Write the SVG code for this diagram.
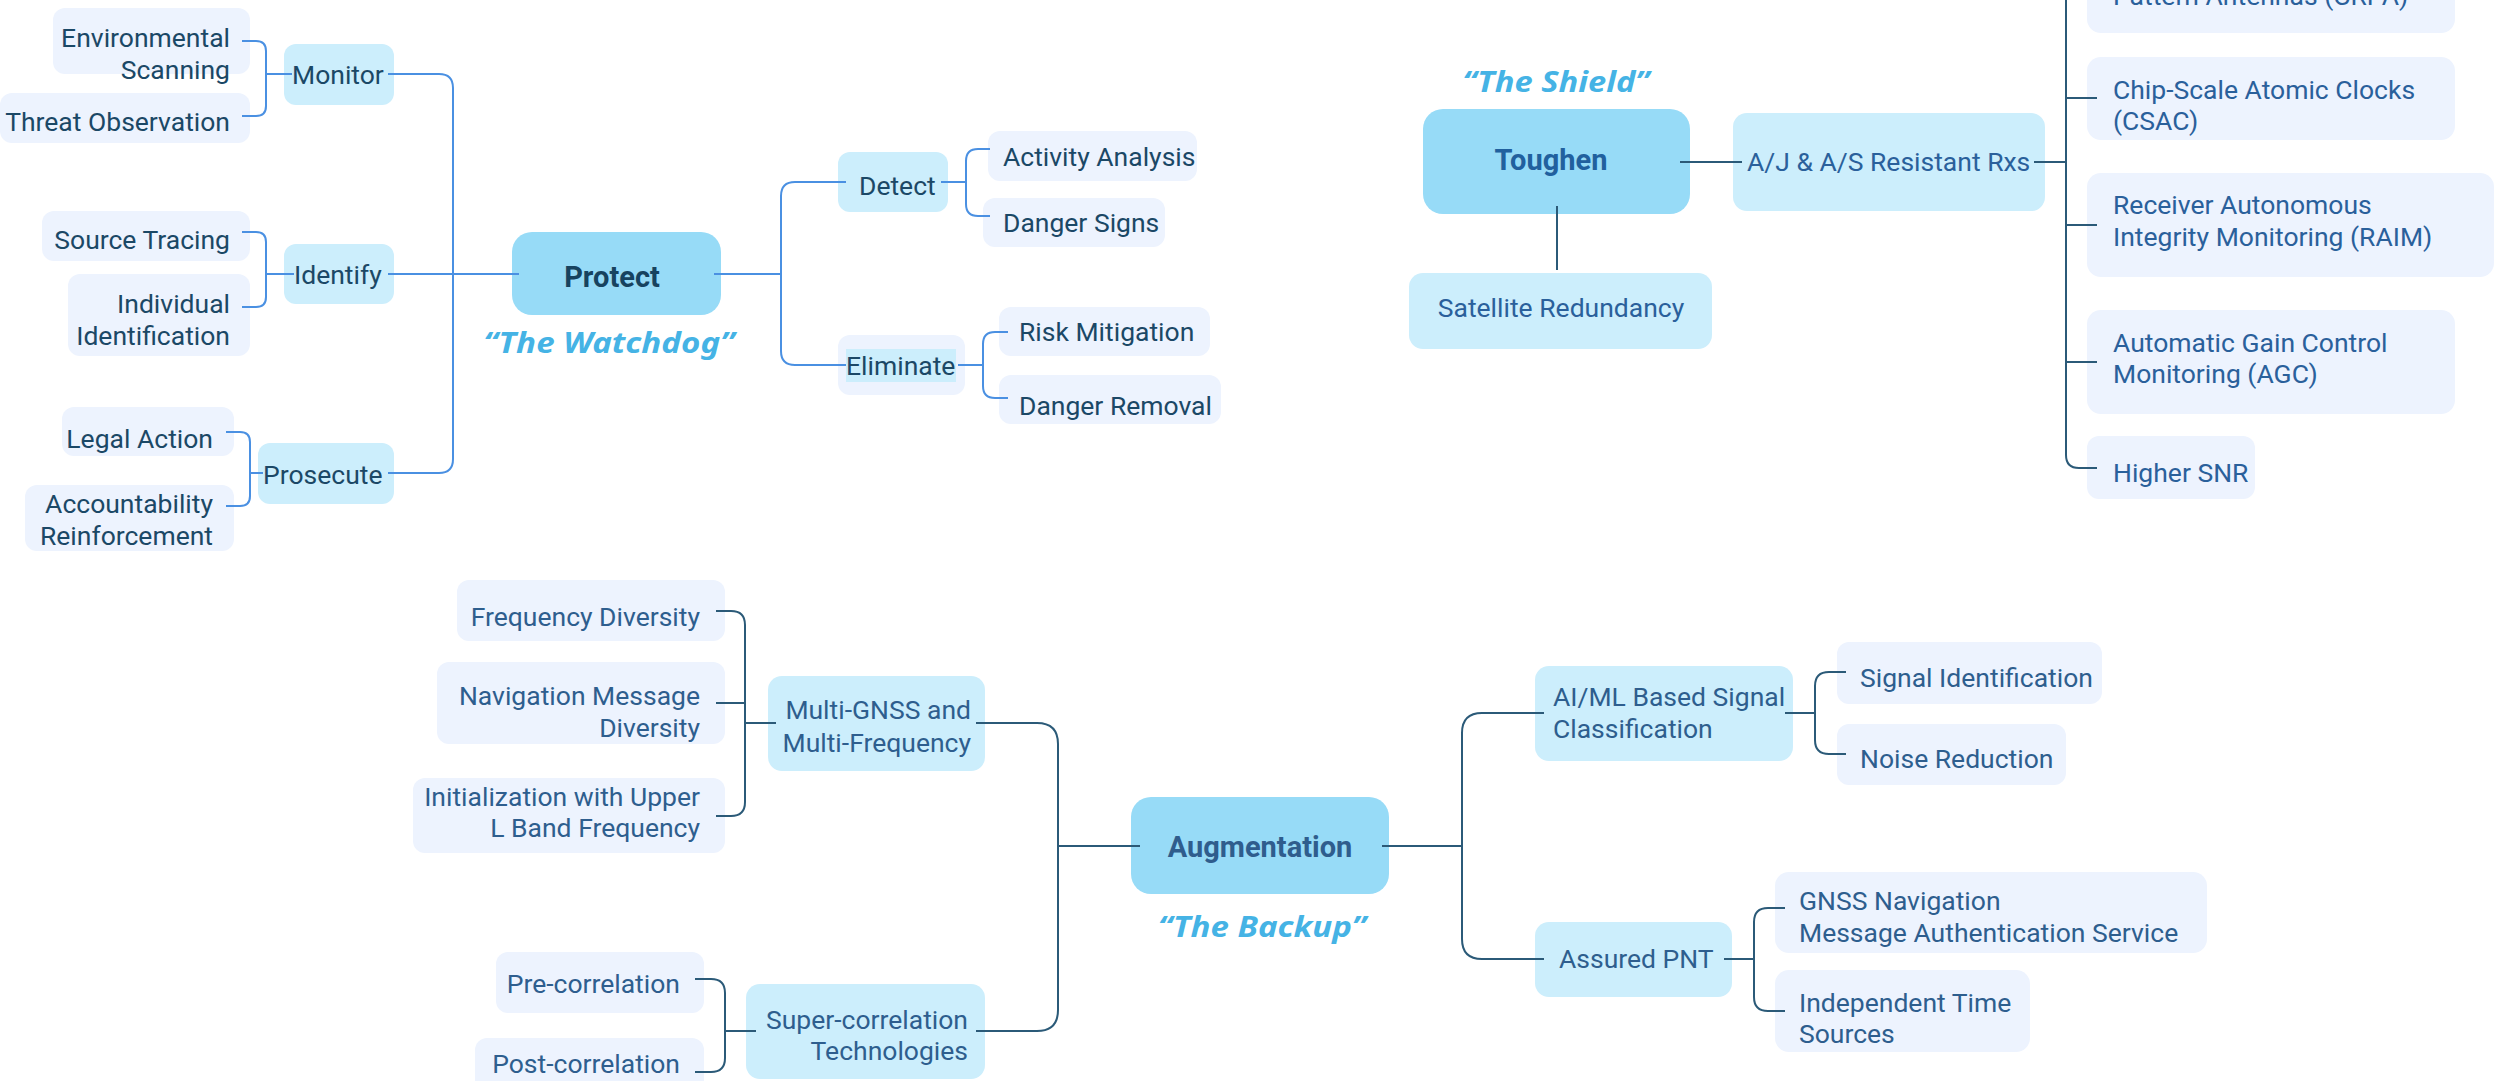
<svg xmlns="http://www.w3.org/2000/svg" width="2496" height="1081" viewBox="0 0 2496 1081">
<style>
.c{fill:#97DBF7}
.l2{fill:#CCEEFC}
.lf{fill:#EDF3FE}
text{font-family:Roboto,"Liberation Sans",sans-serif;font-size:26.5px}
.pg{fill:#1B4866}
.tg{fill:#2A609B}
.ag{fill:#2E5E8E}
.r{text-anchor:end}
.m{text-anchor:middle}
.b{font-weight:bold;font-size:29px}
.q{font-family:"Noto Sans","Open Sans",sans-serif;font-weight:bold;font-style:italic;font-size:28px;fill:#45B3E5;text-anchor:middle}
.cp{stroke:#4A90E2;stroke-width:2;fill:none}
.cd{stroke:#2B5A78;stroke-width:2;fill:none}
</style>
<rect width="2496" height="1081" fill="#FFFFFF"/>

<!-- Protect group -->
<g id="protect">
<rect class="c" x="512" y="232" width="209" height="83" rx="20"/>
<text class="b m" x="612" y="287" fill="#17435F">Protect</text>
<text class="q" x="609" y="353" textLength="251" lengthAdjust="spacingAndGlyphs">“The Watchdog”</text>
</g>
<g id="monitor"><rect class="l2" x="284" y="44" width="110" height="61" rx="12"/><text class="pg" x="292" y="84">Monitor</text></g>
<g id="identify"><rect class="l2" x="284" y="244" width="110" height="60" rx="12"/><text class="pg" x="294" y="284">Identify</text></g>
<g id="prosecute"><rect class="l2" x="258" y="443" width="136" height="61" rx="12"/><text class="pg" x="263" y="484">Prosecute</text></g>
<g id="env-scanning"><rect class="lf" x="53" y="8" width="197" height="66" rx="12"/><text class="pg r" x="230" y="47">Environmental</text><text class="pg r" x="230" y="79">Scanning</text></g>
<g id="threat-observation"><rect class="lf" x="0" y="93" width="250" height="50" rx="12"/><text class="pg r" x="230" y="131">Threat Observation</text></g>
<g id="source-tracing"><rect class="lf" x="42" y="211" width="208" height="50" rx="12"/><text class="pg r" x="230" y="249">Source Tracing</text></g>
<g id="individual-identification"><rect class="lf" x="68" y="274" width="182" height="82" rx="12"/><text class="pg r" x="230" y="313">Individual</text><text class="pg r" x="230" y="345">Identification</text></g>
<g id="legal-action"><rect class="lf" x="62" y="407" width="172" height="49" rx="12"/><text class="pg r" x="213" y="448">Legal Action</text></g>
<g id="accountability"><rect class="lf" x="25" y="485" width="209" height="66" rx="12"/><text class="pg r" x="213" y="513">Accountability</text><text class="pg r" x="213" y="545">Reinforcement</text></g>
<g id="detect"><rect class="l2" x="838" y="152" width="110" height="60" rx="12"/><text class="pg" x="859" y="195">Detect</text></g>
<g id="eliminate"><rect class="lf" x="838" y="335" width="127" height="60" rx="12"/><rect class="l2" x="846" y="349" width="110" height="33"/><text class="pg" x="846" y="375">Eliminate</text></g>
<g id="activity-analysis"><rect class="lf" x="988" y="131" width="209" height="50" rx="12"/><text class="pg" x="1003" y="166">Activity Analysis</text></g>
<g id="danger-signs"><rect class="lf" x="983" y="198" width="182" height="49" rx="12"/><text class="pg" x="1003" y="232">Danger Signs</text></g>
<g id="risk-mitigation"><rect class="lf" x="999" y="307" width="211" height="49" rx="12"/><text class="pg" x="1019" y="341">Risk Mitigation</text></g>
<g id="danger-removal"><rect class="lf" x="999" y="375" width="222" height="49" rx="12"/><text class="pg" x="1019" y="415">Danger Removal</text></g>

<!-- Toughen group -->
<g id="toughen">
<rect class="c" x="1423" y="109" width="267" height="105" rx="20"/>
<text class="b m" x="1551" y="170" fill="#21609E">Toughen</text>
<text class="q" x="1556" y="92" textLength="187" lengthAdjust="spacingAndGlyphs">“The Shield”</text>
</g>
<g id="satellite-redundancy"><rect class="l2" x="1409" y="273" width="303" height="76" rx="14"/><text class="tg m" x="1561" y="317">Satellite Redundancy</text></g>
<g id="aj-as"><rect class="l2" x="1733" y="113" width="312" height="98" rx="14"/><text class="tg" x="1747" y="171">A/J &amp; A/S Resistant Rxs</text></g>
<g id="crpa"><rect class="lf" x="2087" y="-40" width="368" height="73" rx="14"/><text class="tg" x="2113" y="5">Pattern Antennas (CRPA)</text></g>
<g id="csac"><rect class="lf" x="2087" y="57" width="368" height="83" rx="14"/><text class="tg" x="2113" y="99">Chip-Scale Atomic Clocks</text><text class="tg" x="2113" y="130">(CSAC)</text></g>
<g id="raim"><rect class="lf" x="2087" y="173" width="407" height="104" rx="14"/><text class="tg" x="2113" y="214">Receiver Autonomous</text><text class="tg" x="2113" y="246">Integrity Monitoring (RAIM)</text></g>
<g id="agc"><rect class="lf" x="2087" y="310" width="368" height="104" rx="14"/><text class="tg" x="2113" y="352">Automatic Gain Control</text><text class="tg" x="2113" y="383">Monitoring (AGC)</text></g>
<g id="higher-snr"><rect class="lf" x="2087" y="436" width="168" height="63" rx="12"/><text class="tg" x="2113" y="482">Higher SNR</text></g>

<!-- Augmentation group -->
<g id="augmentation">
<rect class="c" x="1131" y="797" width="258" height="97" rx="20"/>
<text class="b m" x="1260" y="857" fill="#2F5D8D">Augmentation</text>
<text class="q" x="1262" y="937" textLength="208" lengthAdjust="spacingAndGlyphs">“The Backup”</text>
</g>
<g id="multi-gnss"><rect class="l2" x="768" y="676" width="217" height="95" rx="14"/><text class="ag r" x="971" y="719">Multi-GNSS and</text><text class="ag r" x="971" y="752">Multi-Frequency</text></g>
<g id="frequency-diversity"><rect class="lf" x="457" y="580" width="268" height="61" rx="12"/><text class="ag r" x="700" y="626">Frequency Diversity</text></g>
<g id="nav-message-diversity"><rect class="lf" x="437" y="662" width="288" height="82" rx="12"/><text class="ag r" x="700" y="705">Navigation Message</text><text class="ag r" x="700" y="737">Diversity</text></g>
<g id="initialization"><rect class="lf" x="413" y="778" width="312" height="75" rx="12"/><text class="ag r" x="700" y="806">Initialization with Upper</text><text class="ag r" x="700" y="837">L Band Frequency</text></g>
<g id="super-correlation"><rect class="l2" x="746" y="984" width="239" height="95" rx="14"/><text class="ag r" x="968" y="1029">Super-correlation</text><text class="ag r" x="968" y="1060">Technologies</text></g>
<g id="pre-correlation"><rect class="lf" x="496" y="952" width="208" height="61" rx="12"/><text class="ag r" x="680" y="993">Pre-correlation</text></g>
<g id="post-correlation"><rect class="lf" x="475" y="1038" width="229" height="60" rx="12"/><text class="ag r" x="680" y="1073">Post-correlation</text></g>
<g id="aiml"><rect class="l2" x="1535" y="666" width="258" height="95" rx="14"/><text class="ag" x="1553" y="706">AI/ML Based Signal</text><text class="ag" x="1553" y="738">Classification</text></g>
<g id="signal-identification"><rect class="lf" x="1837" y="642" width="265" height="62" rx="12"/><text class="ag" x="1860" y="687">Signal Identification</text></g>
<g id="noise-reduction"><rect class="lf" x="1837" y="724" width="229" height="61" rx="12"/><text class="ag" x="1860" y="768">Noise Reduction</text></g>
<g id="assured-pnt"><rect class="l2" x="1535" y="922" width="197" height="75" rx="14"/><text class="ag" x="1559" y="968">Assured PNT</text></g>
<g id="gnss-nav-auth"><rect class="lf" x="1775" y="872" width="432" height="81" rx="14"/><text class="ag" x="1799" y="910">GNSS Navigation</text><text class="ag" x="1799" y="942">Message Authentication Service</text></g>
<g id="independent-time"><rect class="lf" x="1775" y="970" width="255" height="82" rx="14"/><text class="ag" x="1799" y="1012">Independent Time</text><text class="ag" x="1799" y="1043">Sources</text></g>

<!-- Connectors -->
<g id="connectors">
<path class="cp" d="M242,41 H256 Q266,41 266,51 V106 Q266,116 256,116 H242 M266,74 H292"/>
<path class="cp" d="M242,232 H256 Q266,232 266,242 V297 Q266,307 256,307 H242 M266,274 H294"/>
<path class="cp" d="M226,432 H240 Q250,432 250,442 V496 Q250,506 240,506 H226 M250,473 H263"/>
<path class="cp" d="M388,74 H439 Q453,74 453,88 V459 Q453,473 439,473 H388 M388,274 H519"/>
<path class="cp" d="M714,274 H781 M846,182 H795 Q781,182 781,196 V351 Q781,365 795,365 H846"/>
<path class="cp" d="M941,182 H966 M990,149 H978 Q966,149 966,161 V204 Q966,216 978,216 H990"/>
<path class="cp" d="M958,365 H983 M1008,332 H995 Q983,332 983,344 V386 Q983,398 995,398 H1008"/>
<path class="cd" d="M1557,206 V270"/>
<path class="cd" d="M1680,162 H1742"/>
<path class="cd" d="M2034,162 H2066 M2066,0 V455 Q2066,468 2079,468 H2097 M2066,98 H2097 M2066,225 H2097 M2066,362 H2097"/>
<path class="cd" d="M716,611 H731 Q745,611 745,625 V802 Q745,816 731,816 H716 M716,703 H745 M745,723 H776"/>
<path class="cd" d="M695,979 H711 Q725,979 725,993 V1058 Q725,1072 711,1072 H695 M725,1031 H756"/>
<path class="cd" d="M976,723 H1037 Q1058,723 1058,744 V1010 Q1058,1031 1037,1031 H976 M1058,846 H1140"/>
<path class="cd" d="M1382,846 H1462 M1544,713 H1482 Q1462,713 1462,733 V939 Q1462,959 1482,959 H1544"/>
<path class="cd" d="M1785,713 H1815 M1846,672 H1829 Q1815,672 1815,686 V740 Q1815,754 1829,754 H1846"/>
<path class="cd" d="M1724,959 H1754 M1785,908 H1768 Q1754,908 1754,922 V997 Q1754,1011 1768,1011 H1785"/>
</g>
</svg>
